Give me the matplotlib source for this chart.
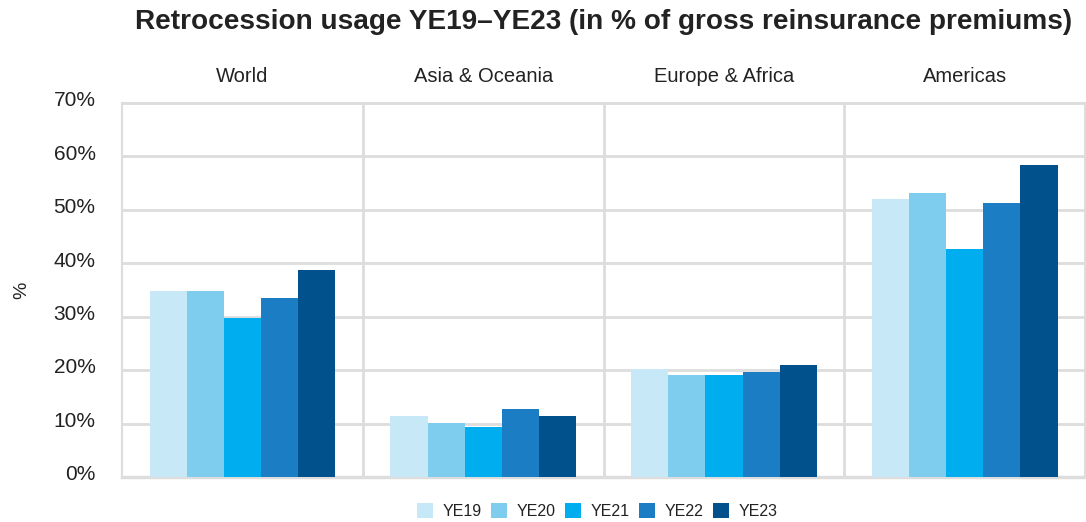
import numpy as np
import matplotlib.pyplot as plt
from matplotlib.transforms import ScaledTranslation

plt.rcParams['font.family'] = ['Liberation Sans', 'DejaVu Sans']

regions = ['World', 'Asia & Oceania', 'Europe & Africa', 'Americas']
years = ['YE19', 'YE20', 'YE21', 'YE22', 'YE23']
ye19 = [34.8, 11.5, 20.2, 52.0]
ye20 = [34.9, 10.1, 19.0, 53.1]
ye21 = [29.7, 9.3, 19.0, 42.7]
ye22 = [33.5, 12.8, 19.7, 51.2]
ye23 = [38.7, 11.5, 20.9, 58.4]
series = [ye19, ye20, ye21, ye22, ye23]
colors = ['#c7e8f7', '#7fcdee', '#00aeef', '#1b7ec4', '#00518c']
yticks = [0, 10, 20, 30, 40, 50, 60, 70]

grid_c = '#dddddd'
text_c = '#222222'

fig = plt.figure(figsize=(10.86, 5.22), dpi=100)
ax = fig.add_axes([0.1123, 0.0862, 0.887, 0.7165])

x = np.arange(len(regions))
w = 0.154
for i, (vals, col, lab) in enumerate(zip(series, colors, years)):
    ax.bar(x + (i - 2) * w, vals, width=w, color=col, label=lab, zorder=3)

ax.set_xlim(-0.5, len(regions) - 0.5)
ax.set_ylim(0, 70)
ax.set_yticks(yticks)
ax.set_yticklabels([f'{t}%' for t in yticks], fontsize=15, color=text_c)
ax.tick_params(axis='y', length=0, pad=19)
# labels sit a little above their gridlines in the original
shift = ScaledTranslation(0, 3 / 72, fig.dpi_scale_trans)
for lbl in ax.get_yticklabels():
    lbl.set_transform(lbl.get_transform() + shift)
ax.set_xticks([])
ax.yaxis.grid(True, color=grid_c, linewidth=2, zorder=0)
for b in np.arange(0.5, len(regions) - 0.5):
    ax.axvline(b, color=grid_c, linewidth=2, zorder=0)
for s in ['left', 'right', 'top']:
    ax.spines[s].set_color(grid_c)
    ax.spines[s].set_linewidth(1.5)
ax.spines['bottom'].set_color(grid_c)
ax.spines['bottom'].set_linewidth(2.5)

for xi, name in zip(x, regions):
    ax.text(xi, 1.072, name, transform=ax.get_xaxis_transform(),
            ha='center', va='center', fontsize=14.5, color=text_c)

ax.set_ylabel('%', fontsize=14, color=text_c, labelpad=17)

fig.text(0.556, 0.958, 'Retrocession usage YE19\u2013YE23 (in % of gross reinsurance premiums)',
         ha='center', va='center', fontsize=20.2, fontweight='bold', color=text_c)

fig.legend(loc='center', bbox_to_anchor=(0.550, 0.021), ncol=5, frameon=False,
           fontsize=11.5, handlelength=1.0, handleheight=1.0, columnspacing=0.6,
           handletextpad=0.6, labelcolor=text_c)

fig.savefig('out.png', dpi=100)
